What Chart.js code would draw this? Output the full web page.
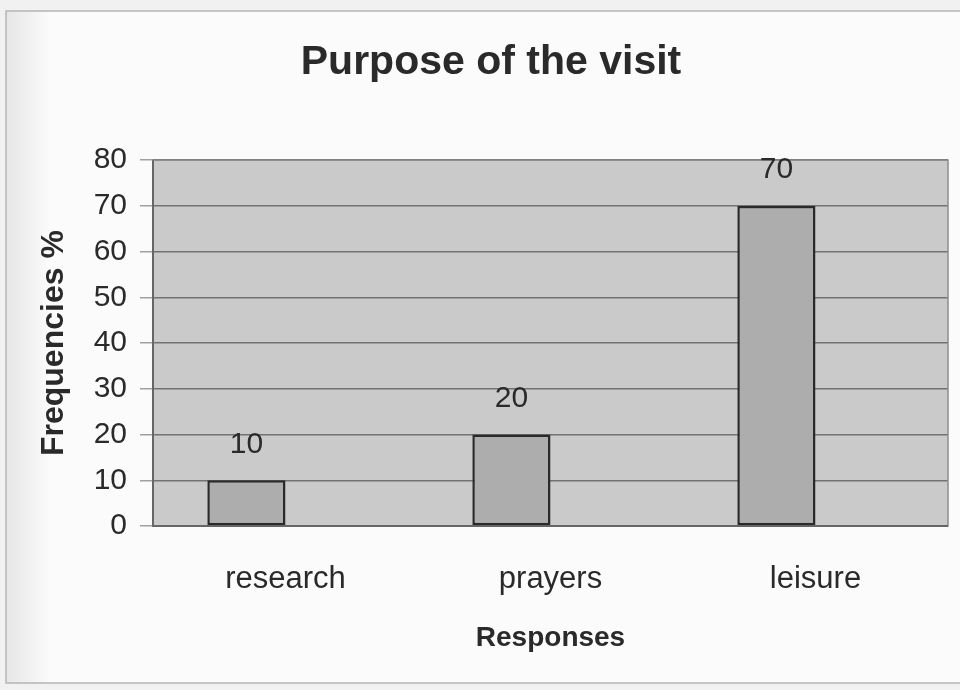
<!DOCTYPE html>
<html>
<head>
<meta charset="utf-8">
<script src="https://cdn.jsdelivr.net/npm/chart.js@4/dist/chart.umd.min.js"></script>
<style>
  body { margin: 0; background: #f7f7f7; }
  canvas { display: block; }
</style>
</head>
<body>
<canvas id="purpose-chart" width="960" height="690"></canvas>
<script>
const categories = ["research", "prayers", "leisure"];
const frequencies = [10, 20, 70];
// Excel left room for a second (empty) series, so bars sit left of centre
const emptySeries = [null, null, null];
const yTicks = [0, 10, 20, 30, 40, 50, 60, 70, 80];

const FONT = "'Liberation Sans', Arial, sans-serif";
const TEXT = "#2a2a2a";

const backdrop = {
  id: "backdrop",
  beforeDraw(chart) {
    const { ctx, chartArea: a } = chart;
    ctx.save();
    ctx.fillStyle = "#f1f1f1";
    ctx.fillRect(0, 0, chart.width, chart.height);
    // scanned page: a bit of shade down the left edge
    const g = ctx.createLinearGradient(6, 0, 50, 0);
    g.addColorStop(0, "#e6e6e6");
    g.addColorStop(1, "#fbfbfb");
    ctx.fillStyle = g;
    ctx.fillRect(6, 11, chart.width, 672);
    ctx.strokeStyle = "#b5b5b5";
    ctx.lineWidth = 1.5;
    ctx.strokeRect(6, 11, chart.width + 10, 672);
    ctx.fillStyle = "#cacaca";
    ctx.fillRect(a.left, a.top, a.right - a.left, a.bottom - a.top);
    ctx.restore();
  },
  afterDatasetsDraw(chart) {
    const { ctx, chartArea: a } = chart;
    ctx.save();
    ctx.strokeStyle = "#8c8c8c";
    ctx.lineWidth = 1.5;
    ctx.strokeRect(a.left, a.top, a.right - a.left, a.bottom - a.top);
    ctx.strokeStyle = "#666";
    ctx.lineWidth = 2;
    ctx.beginPath();
    ctx.moveTo(a.left, a.top);
    ctx.lineTo(a.left, a.bottom);
    ctx.lineTo(a.right, a.bottom);
    ctx.stroke();
    // value labels above the bars
    ctx.fillStyle = TEXT;
    ctx.font = "30px " + FONT;
    ctx.textAlign = "center";
    ctx.textBaseline = "middle";
    chart.getDatasetMeta(0).data.forEach((bar, i) => {
      ctx.fillText(String(frequencies[i]), bar.x, bar.y - 36);
    });
    ctx.restore();
  }
};

new Chart(document.getElementById("purpose-chart").getContext("2d"), {
  type: "bar",
  data: {
    labels: categories,
    datasets: [
      {
        data: frequencies,
        backgroundColor: "#adadad",
        borderColor: "#2a2a2a",
        borderWidth: 2.5,
        borderSkipped: false,
        categoryPercentage: 0.59,
        barPercentage: 1
      },
      {
        data: emptySeries,
        categoryPercentage: 0.59,
        barPercentage: 1
      }
    ]
  },
  options: {
    responsive: false,
    animation: false,
    layout: { padding: { left: 34, right: 12, top: 0, bottom: 0 } },
    plugins: {
      legend: { display: false },
      tooltip: { enabled: false },
      title: {
        display: true,
        text: "Purpose of the visit",
        color: TEXT,
        font: { family: FONT, size: 41, weight: "bold" },
        padding: { top: 38, bottom: 73 }
      }
    },
    scales: {
      x: {
        grid: { display: false },
        border: { display: false },
        ticks: {
          color: TEXT,
          font: { family: FONT, size: 31 },
          padding: 27,
          maxRotation: 0
        },
        title: {
          display: true,
          text: "Responses",
          color: TEXT,
          font: { family: FONT, size: 28, weight: "bold" },
          padding: { top: 0, bottom: 35 }
        },
        afterFit(scale) { scale.height = 164; }
      },
      y: {
        min: 0,
        max: 80,
        afterBuildTicks(scale) { scale.ticks = yTicks.map(v => ({ value: v })); },
        grid: {
          color: "#727272",
          lineWidth: 1.5,
          tickLength: 13,
          tickColor: "#a0a0a0"
        },
        border: { display: false },
        ticks: {
          color: TEXT,
          font: { family: FONT, size: 30 },
          padding: 13
        },
        title: {
          display: true,
          text: "Frequencies %",
          color: TEXT,
          font: { family: FONT, size: 32, weight: "bold" },
          padding: { top: 1, bottom: 0 }
        },
        afterFit(scale) { scale.width = 119; }
      }
    }
  },
  plugins: [backdrop]
});
</script>
</body>
</html>
